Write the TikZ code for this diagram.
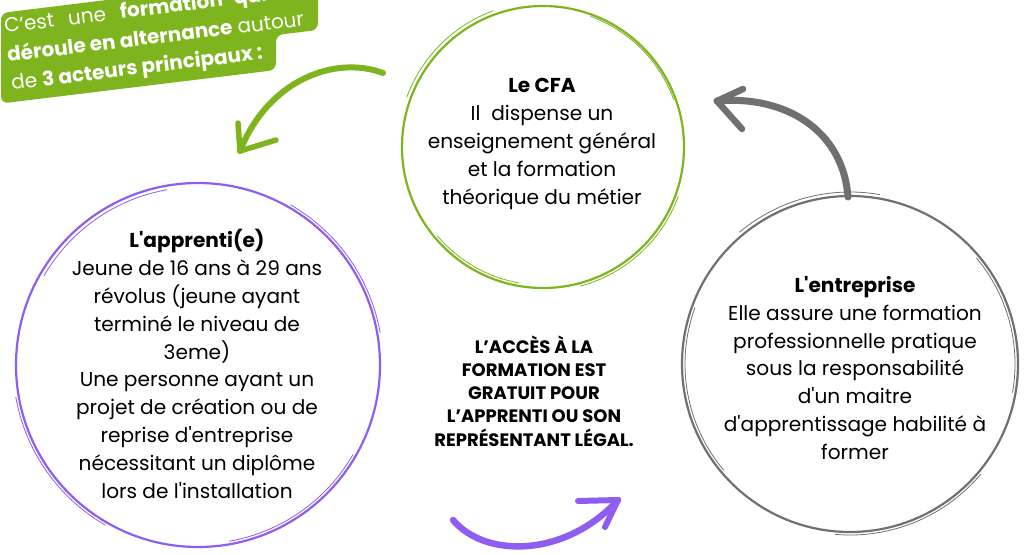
\documentclass[tikz,border=0pt]{standalone}
\usepackage{fontspec}
\setmainfont{Poppins}
\usetikzlibrary{calc}
\definecolor{cgreen}{RGB}{126,180,30}
\definecolor{cgrey}{RGB}{112,112,112}
\definecolor{cpurple}{RGB}{142,94,240}
\newcommand\sq{\textquotesingle}
\tikzset{
  ring/.style={draw=#1, circle, line width=2.2pt, inner sep=0pt},
  scratch/.style={draw=#1, line width=0.8pt},
  txt/.style={align=center, inner sep=0pt, font=\fontsize{20.1}{27.8}\selectfont},
  midtxt/.style={align=center, inner sep=0pt, font=\fontsize{18}{23.2}\selectfont\bfseries},
  bannertxt/.style={anchor=base west, inner sep=0pt, rotate=7, text=white, font=\fontsize{20}{28}\selectfont},
  handarrow/.style={draw=#1, line cap=round, line join=round},
}
\begin{document}
\begin{tikzpicture}[x=1pt,y=-1pt]
\useasboundingbox (0,0) rectangle (1033,554);
\clip (0,0) rectangle (1033,554);
\fill[white] (0,0) rectangle (1033,554);

% banner
\fill[cgreen, rounded corners=7pt] (1,13) -- (318,-26) -- (318,30) -- (276,35) -- (276,70) -- (1,103.5) -- cycle;
\node[bannertxt] (b1) at (5,33) {\makebox[299pt][s]{C’est une \textbf{formation qui se}}};
\node[bannertxt] (b2) at (8,62) {\textbf{déroule en alternance} autour};
\node[bannertxt] (b3) at (12,90) {de \textbf{3 acteurs principaux :}};

% circles
\node[ring=cgreen, minimum size=282pt] (cfa) at (543,147) {};
\node[ring=cpurple, minimum size=364pt] (app) at (198,365) {};
\node[ring=cgrey, minimum size=336pt] (ent) at (850,364) {};
\foreach \a/\b/\d in {20/75/3, 100/140/-3, 200/250/4, 290/340/-2}
  \draw[scratch=cgreen] ($(cfa.center)+(\a:{141+\d})$) arc[start angle=\a, end angle=\b, radius={141+\d}];
\foreach \a/\b/\d in {30/80/-3, 120/170/3, 210/260/-4, 300/350/3}
  \draw[scratch=cpurple] ($(app.center)+(\a:{182+\d})$) arc[start angle=\a, end angle=\b, radius={182+\d}];
\foreach \a/\b/\d in {40/95/3, 140/200/-3, 230/280/4, 320/370/-3}
  \draw[scratch=cgrey] ($(ent.center)+(\a:{168+\d})$) arc[start angle=\a, end angle=\b, radius={168+\d}];

% texts
\node[txt] (cfat) at (542,144) {\textbf{Le CFA}\\Il~ dispense un\\enseignement général\\et la formation\\théorique du métier};
\node[txt] (appt) at (197,364) {\textbf{L\sq apprenti(e)}\\Jeune de 16 ans à 29 ans\\révolus (jeune ayant\\terminé le niveau de\\3eme)\\Une personne ayant un\\projet de création ou de\\reprise d\sq entreprise\\nécessitant un diplôme\\lors de l\sq installation};
\node[txt] (entt) at (855,368) {\textbf{L\sq entreprise}\\Elle assure une formation\\professionnelle pratique\\sous la responsabilité\\d\sq un maitre\\d\sq apprentissage habilité à\\former};
\node[midtxt] (mid) at (534,391) {L’ACCÈS À LA\\FORMATION EST\\GRATUIT POUR\\L’APPRENTI OU SON\\REPRÉSENTANT LÉGAL.};

% arrows
\coordinate (g0) at (383,73);
\coordinate (g1) at (240,151);
\draw[handarrow=cgreen, line width=6pt] (g0) .. controls (335,55) and (268,80) .. (g1);
\draw[handarrow=cgreen, line width=5.5pt] (g1) -- (238,123);
\draw[handarrow=cgreen, line width=5.5pt] (g1) -- (276,140);

\coordinate (k0) at (848,197);
\coordinate (k1) at (717,101);
\draw[handarrow=cgrey, line width=7pt] (k0) .. controls (843,130) and (785,95) .. (k1);
\draw[handarrow=cgrey, line width=6.5pt] (k1) -- (743,89);
\draw[handarrow=cgrey, line width=6.5pt] (k1) -- (742,129);

\coordinate (p0) at (453,520);
\coordinate (p1) at (618,500);
\draw[handarrow=cpurple, line width=6.5pt] (p0) .. controls (485,558) and (565,558) .. (p1);
\draw[handarrow=cpurple, line width=6pt] (p1) -- (578,501);
\draw[handarrow=cpurple, line width=6pt] (p1) -- (605,527);
\end{tikzpicture}
\end{document}
